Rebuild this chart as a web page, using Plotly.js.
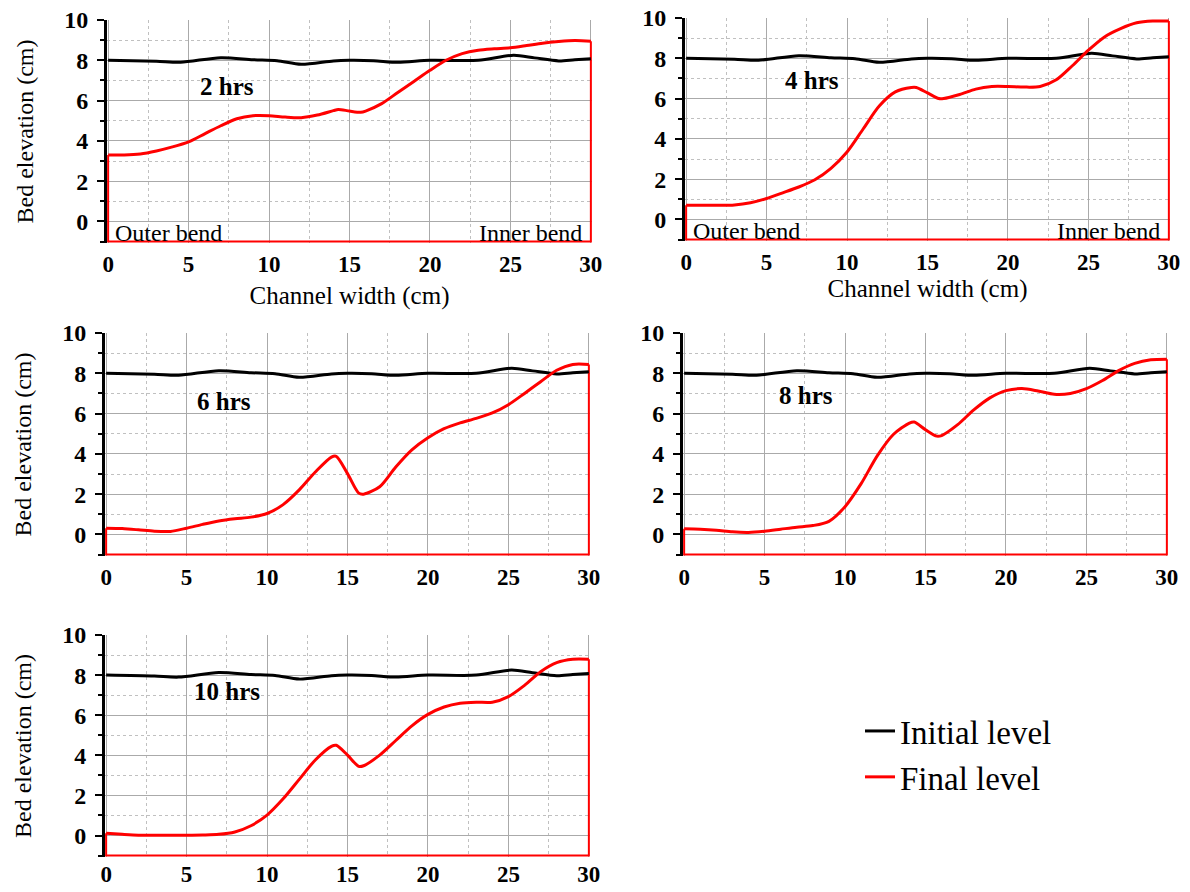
<!DOCTYPE html>
<html>
<head>
<meta charset="utf-8">
<script src="https://cdn.plot.ly/plotly-3.0.1.min.js"></script>
<style>html,body{margin:0;padding:0;background:#fff;}#chart{width:1190px;height:892px;}</style>
</head>
<body>
<div id="chart"></div>
<script>
// ---------- data ----------
const panelLabels = ["2 hrs", "4 hrs", "6 hrs", "8 hrs", "10 hrs"];
const initialX = [0, 3, 4.5, 7, 9, 10.5, 12, 14, 15, 16.5, 18, 20, 23, 25.2, 26.5, 28, 29, 30];
const initialY = [8.0, 7.95, 7.9, 8.13, 8.03, 7.98, 7.8, 7.97, 8.0, 7.98, 7.9, 8.0, 8.0, 8.25, 8.12, 7.97, 8.03, 8.08];
const finalX = [0, 1, 2, 3, 4, 5, 6, 7, 8, 9, 10, 11, 12, 13, 14, 14.3, 15, 15.7, 16, 17, 18, 19, 20, 21, 22, 23, 24, 25, 26, 27, 28, 29, 30];
const final2h = [3.3, 3.3, 3.35, 3.5, 3.7, 3.95, 4.35, 4.75, 5.1, 5.25, 5.25, 5.18, 5.15, 5.28, 5.5, 5.56, 5.48, 5.42, 5.48, 5.85, 6.4, 6.95, 7.5, 8.0, 8.33, 8.5, 8.57, 8.62, 8.73, 8.85, 8.93, 8.98, 8.95];
const final4h = [0.7, 0.7, 0.7, 0.72, 0.83, 1.04, 1.32, 1.61, 1.97, 2.54, 3.35, 4.49, 5.63, 6.33, 6.55, 6.55, 6.28, 6.0, 6.0, 6.2, 6.47, 6.6, 6.6, 6.57, 6.6, 6.93, 7.63, 8.4, 9.06, 9.47, 9.76, 9.85, 9.85];
const final6h = [0.31, 0.29, 0.23, 0.16, 0.15, 0.31, 0.5, 0.67, 0.78, 0.86, 1.04, 1.48, 2.21, 3.1, 3.84, 3.88, 3.02, 2.05, 2.0, 2.37, 3.35, 4.2, 4.8, 5.25, 5.54, 5.76, 6.03, 6.44, 7.0, 7.58, 8.15, 8.44, 8.44];
const final8h = [0.28, 0.26, 0.21, 0.13, 0.1, 0.16, 0.26, 0.36, 0.44, 0.65, 1.38, 2.52, 3.9, 4.96, 5.53, 5.58, 5.2, 4.88, 4.91, 5.45, 6.18, 6.78, 7.14, 7.24, 7.12, 6.96, 7.0, 7.24, 7.64, 8.13, 8.49, 8.67, 8.7];
const final10h = [0.11, 0.06, 0.02, 0.02, 0.02, 0.02, 0.03, 0.06, 0.18, 0.49, 1.02, 1.83, 2.8, 3.77, 4.45, 4.5, 4.01, 3.45, 3.48, 4.01, 4.74, 5.47, 6.04, 6.41, 6.6, 6.65, 6.65, 6.93, 7.49, 8.17, 8.62, 8.79, 8.79];
const finalSeries = [final2h, final4h, final6h, final8h, final10h];
const xTickVals = [0, 5, 10, 15, 20, 25, 30];
const yTickVals = [0, 2, 4, 6, 8, 10];
const yFloor = -1;

// ---------- layout helpers ----------
const W = 1190, H = 892;
// pixel boxes of plot areas [left, right, top, bottom]
const boxes = [
  [107, 592, 20, 243],
  [685, 1170, 18, 241],
  [105, 590, 333, 556],
  [683, 1168, 333, 556],
  [105, 590, 635, 857]
];
const SERIF = "Liberation Serif";
const traces = [];
const layout = {
  width: W, height: H,
  margin: {l: 0, r: 0, t: 0, b: 0},
  paper_bgcolor: "#ffffff", plot_bgcolor: "#ffffff",
  font: {family: SERIF, color: "#000"},
  showlegend: true,
  legend: {
    x: 860 / W, y: 1 - 703 / H, xanchor: "left", yanchor: "top",
    font: {family: SERIF, size: 33, color: "#000"},
    bgcolor: "rgba(0,0,0,0)", tracegroupgap: 0, itemwidth: 30
  },
  annotations: []
};

boxes.forEach((b, i) => {
  const n = i + 1;
  const xa = "xaxis" + (n === 1 ? "" : n), ya = "yaxis" + (n === 1 ? "" : n);
  const xr = "x" + (n === 1 ? "" : n), yr = "y" + (n === 1 ? "" : n);
  layout[xa] = {
    domain: [b[0] / W, b[1] / W], anchor: yr,
    range: [-0.07, 30.07], tickvals: xTickVals, ticks: "",
    showline: false, zeroline: false,
    showgrid: true, gridcolor: "#aaaaaa", gridwidth: 1,
    minor: {dtick: 2.5, tick0: 0, showgrid: true, gridcolor: "#c0c0c0", griddash: "dot", gridwidth: 1, ticks: ""},
    tickfont: {family: SERIF, size: 23, color: "#000", weight: "bold"},
    ticklabelstandoff: n === 5 ? 1 : 5,
    layer: "below traces", fixedrange: true
  };
  layout[ya] = {
    domain: [1 - b[3] / H, 1 - b[2] / H], anchor: xr,
    range: [-1.07, 10], tickvals: yTickVals, ticks: "outside", ticklen: 7, tickwidth: 2, tickcolor: "#000",
    showline: true, linecolor: "#000", linewidth: 3, zeroline: false,
    showgrid: true, gridcolor: "#aaaaaa", gridwidth: 1,
    minor: {dtick: 1, tick0: 0, ticks: "outside", ticklen: 4, tickwidth: 2, tickcolor: "#000", showgrid: true, gridcolor: "#c0c0c0", griddash: "dot", gridwidth: 1},
    tickfont: {family: SERIF, size: 24, color: "#000", weight: "bold"},
    ticklabelstandoff: 4,
    layer: "below traces", fixedrange: true
  };
  if (n === 1 || n === 3 || n === 5) {
    layout[ya].title = {text: "Bed elevation (cm)", font: {family: SERIF, size: 24, color: "#000"}, standoff: 24};
  }
  if (n === 1 || n === 2) {
    layout[xa].title = {text: "Channel width (cm)", font: {family: SERIF, size: 25, color: "#000"}, standoff: n === 1 ? 10 : 2};
    layout.annotations.push({xref: xr, yref: yr, x: 0.3, y: -0.55, xanchor: "left", yanchor: "middle",
      text: "Outer bend", showarrow: false, font: {family: SERIF, size: 24, color: "#000"}});
    layout.annotations.push({xref: xr, yref: yr, x: 29.6, y: -0.55, xanchor: "right", yanchor: "middle",
      text: "Inner bend", showarrow: false, font: {family: SERIF, size: 24, color: "#000"}});
  }
  const labelPos = [[7.4, 6.7], [7.8, 6.9], [7.3, 6.6], [7.6, 6.9], [7.5, 7.2]][i];
  layout.annotations.push({xref: xr, yref: yr, x: labelPos[0], y: labelPos[1], xanchor: "center", yanchor: "middle",
    text: "<b>" + panelLabels[i] + "</b>", showarrow: false, font: {family: SERIF, size: 25, color: "#000"}});

  const fy = finalSeries[i];
  // frame of final level: vertical sides and floor
  traces.push({
    type: "scatter", mode: "lines", xaxis: xr, yaxis: yr, hoverinfo: "skip", showlegend: false,
    x: [finalX[0], finalX[0], finalX[finalX.length - 1], finalX[finalX.length - 1]],
    y: [fy[0], yFloor, yFloor, fy[fy.length - 1]],
    line: {color: "#ff0000", width: 2}
  });
  traces.push({
    type: "scatter", mode: "lines", xaxis: xr, yaxis: yr, name: "Initial level", showlegend: n === 1,
    x: initialX, y: initialY, line: {color: "#000000", width: 3, shape: "spline", smoothing: 0.8}
  });
  traces.push({
    type: "scatter", mode: "lines", xaxis: xr, yaxis: yr, name: "Final level", showlegend: n === 1,
    x: finalX, y: fy, line: {color: "#ff0000", width: 3, shape: "spline", smoothing: 0.8}
  });
});

Plotly.newPlot("chart", traces, layout, {staticPlot: true, displayModeBar: false});
</script>
</body>
</html>
